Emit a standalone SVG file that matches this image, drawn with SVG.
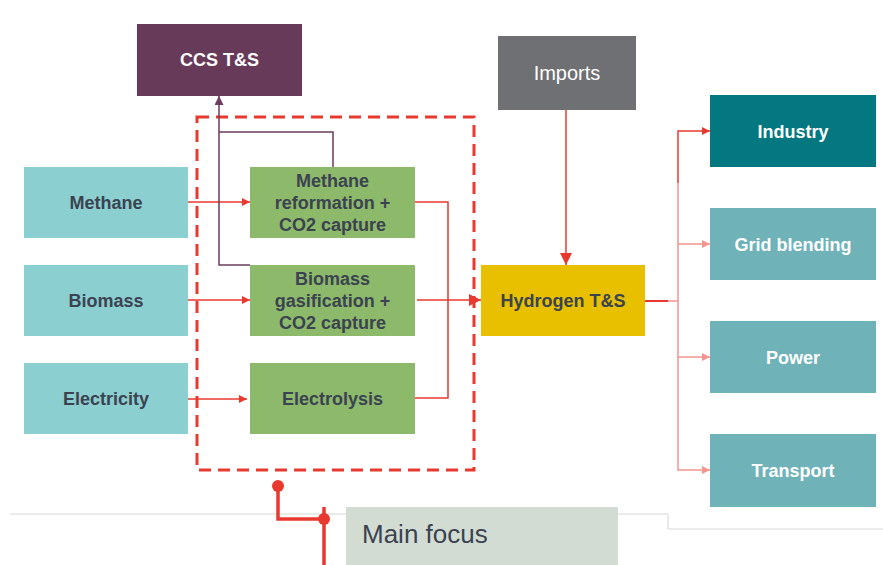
<svg xmlns="http://www.w3.org/2000/svg" width="883" height="565" viewBox="0 0 883 565">
<style>
.t{font-family:"Liberation Sans",Arial,sans-serif;font-size:18px;font-weight:bold;text-anchor:middle;fill:#3b4350}
.w{fill:#ffffff}
.r{fill:none;stroke:#e8392f;stroke-width:1.5}
.p{fill:none;stroke:#f3958f;stroke-width:1.5}
.pu{fill:none;stroke:#6b3d5e;stroke-width:1.5}
</style>
<defs>
<marker id="ar" viewBox="0 0 10 10" refX="10" refY="5" markerWidth="8" markerHeight="8" markerUnits="userSpaceOnUse" orient="auto"><path d="M0,0L10,5L0,10z" fill="#e8392f"/></marker>
<marker id="ap" viewBox="0 0 10 10" refX="10" refY="5" markerWidth="8" markerHeight="8" markerUnits="userSpaceOnUse" orient="auto"><path d="M0,0L10,5L0,10z" fill="#f3958f"/></marker>
<marker id="au" viewBox="0 0 10 10" refX="10" refY="5" markerWidth="9" markerHeight="9" markerUnits="userSpaceOnUse" orient="auto"><path d="M0,0L10,5L0,10z" fill="#6b3d5e"/></marker>
<marker id="ab" viewBox="0 0 10 10" refX="10" refY="5" markerWidth="12" markerHeight="12" markerUnits="userSpaceOnUse" orient="auto"><path d="M0,0L10,5L0,10z" fill="#e8392f"/></marker>
</defs>
<rect width="883" height="565" fill="#ffffff"/>

<g id="focus-box"><rect x="197" y="117" width="277" height="353" fill="none" stroke="#e8392f" stroke-width="3" stroke-dasharray="12,7"/></g>

<g id="connectors">
<path class="r" d="M188,202H250" marker-end="url(#ar)"/>
<path class="r" d="M188,300H250" marker-end="url(#ar)"/>
<path class="r" d="M185,399H247" marker-end="url(#ar)"/>
<path class="r" d="M415,202H448V398H415"/>
<path class="r" d="M417,300H481" marker-end="url(#ab)"/>
<path class="pu" d="M333,167V132H219"/>
<path class="pu" d="M250,265H219V96" marker-end="url(#au)"/>
<path class="r" d="M566,110V265" marker-end="url(#ab)"/>
<path d="M645,301H668" fill="none" stroke="#e8392f" stroke-width="2"/>
<path class="p" d="M668,301H678"/>
<path class="p" d="M678,183V470H710" marker-end="url(#ap)"/>
<path class="p" d="M678,244H710" marker-end="url(#ap)"/>
<path class="p" d="M678,357H710" marker-end="url(#ap)"/>
<path class="r" d="M678,183V131H710" marker-end="url(#ar)"/>
</g>

<g id="ccs"><rect x="137" y="24" width="165" height="72" fill="#673a5a"/><text class="t w" x="219.5" y="66">CCS T&amp;S</text></g>
<g id="imports"><rect x="498" y="36" width="138" height="74" fill="#6f7073"/><text class="t w" x="567" y="80" style="font-weight:normal;font-size:20px">Imports</text></g>

<g id="methane"><rect x="24" y="167" width="164" height="71" fill="#8ccfd0"/><text class="t" x="106" y="209">Methane</text></g>
<g id="biomass"><rect x="24" y="265" width="164" height="71" fill="#8ccfd0"/><text class="t" x="106" y="307">Biomass</text></g>
<g id="electricity"><rect x="24" y="363" width="164" height="71" fill="#8ccfd0"/><text class="t" x="106" y="405">Electricity</text></g>

<g id="methane-reformation"><rect x="250" y="167" width="165" height="71" fill="#8db96b"/><text class="t" x="332.5" y="187">Methane</text><text class="t" x="332.5" y="209">reformation +</text><text class="t" x="332.5" y="231">CO2 capture</text></g>
<g id="biomass-gasification"><rect x="250" y="265" width="165" height="71" fill="#8db96b"/><text class="t" x="332.5" y="285">Biomass</text><text class="t" x="332.5" y="307">gasification +</text><text class="t" x="332.5" y="329">CO2 capture</text></g>
<g id="electrolysis"><rect x="250" y="363" width="165" height="71" fill="#8db96b"/><text class="t" x="332.5" y="405">Electrolysis</text></g>

<g id="hydrogen"><rect x="481" y="265" width="164" height="71" fill="#e9c000"/><text class="t" x="563" y="307">Hydrogen T&amp;S</text></g>

<g id="industry"><rect x="710" y="95" width="166" height="72" fill="#037880"/><text class="t w" x="793" y="138">Industry</text></g>
<g id="grid-blending"><rect x="710" y="208" width="166" height="72" fill="#6fb3b9"/><text class="t w" x="793" y="251">Grid blending</text></g>
<g id="power"><rect x="710" y="321" width="166" height="72" fill="#6fb3b9"/><text class="t w" x="793" y="364">Power</text></g>
<g id="transport"><rect x="710" y="434" width="166" height="73" fill="#6fb3b9"/><text class="t w" x="793" y="477">Transport</text></g>

<g id="legend">
<path d="M10,514H346M618,514H668V529H883" fill="none" stroke="#d6d6d6" stroke-width="1"/>
<rect x="346" y="507" width="272" height="58" fill="#d2dcd3"/>
<text x="362" y="543" style="font-family:'Liberation Sans',Arial,sans-serif;font-size:26px;fill:#3b4350">Main focus</text>
<path d="M278,486V519H324M324,507V565" fill="none" stroke="#e8392f" stroke-width="3.5"/>
<circle cx="278" cy="486" r="6" fill="#e8392f"/>
<circle cx="324" cy="519" r="6" fill="#e8392f"/>
</g>
</svg>
